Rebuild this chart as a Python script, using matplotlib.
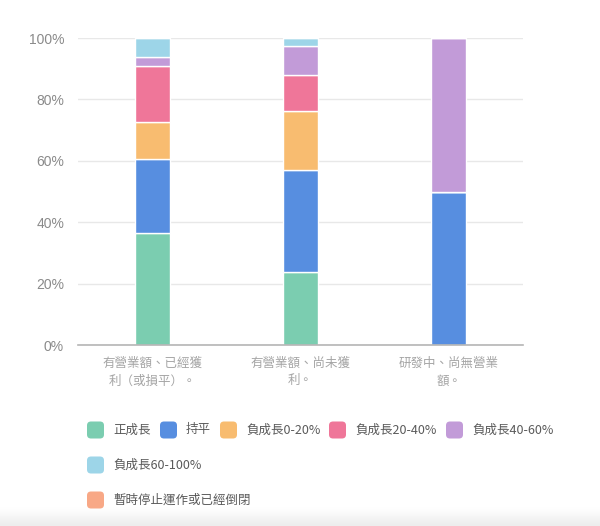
import numpy as np
import matplotlib.pyplot as plt
from matplotlib.patches import FancyBboxPatch
from matplotlib.colors import LinearSegmentedColormap
from matplotlib.ticker import FuncFormatter

plt.rcParams['font.family'] = ['Noto Sans CJK TC', 'DejaVu Sans']

# data (share of respondents, %)
categories = ['有營業額、已經獲\n利（或損平）。', '有營業額、尚未獲\n利。', '研發中、尚無營業\n額。']
series_names = ['正成長', '持平', '負成長0-20%', '負成長20-40%', '負成長40-60%',
                '負成長60-100%', '暫時停止運作或已經倒閉']
positive = [36.4, 23.8, 0]
flat = [24.2, 33.3, 50]
neg_0_20 = [12.1, 19.0, 0]
neg_20_40 = [18.2, 11.9, 0]
neg_40_60 = [3.0, 9.5, 50]
neg_60_100 = [6.1, 2.4, 0]
stopped = [0, 0, 0]
colors = ['#7bcdb0', '#578ee0', '#f8bc70', '#ef7699', '#c29bd8', '#9dd5e8', '#f8a886']

values = [positive, flat, neg_0_20, neg_20_40, neg_40_60, neg_60_100, stopped]

W, H = 600, 526
fig = plt.figure(figsize=(W / 100, H / 100), dpi=100)
ax = fig.add_axes([78 / W, 1 - 345.3 / H, 445 / W, 307.3 / H])

x = np.arange(len(categories))
bottom = np.zeros(len(categories))
for vals, col in zip(values, colors):
    vals = np.array(vals, dtype=float)
    ax.bar(x, vals, 0.236, bottom=bottom, color=col, edgecolor='white', linewidth=1, zorder=3)
    bottom += vals

ax.set_xlim(-0.5, 2.5)
ax.set_ylim(0, 100)
ax.set_yticks([0, 20, 40, 60, 80, 100])
ax.yaxis.set_major_formatter(FuncFormatter(lambda v, p: f'{v:.0f}%'))
ax.grid(axis='y', color='#e8e8e8', linewidth=1, zorder=0)
for s in ['top', 'right', 'left']:
    ax.spines[s].set_visible(False)
ax.spines['bottom'].set_color('#b5b5b5')
ax.spines['bottom'].set_linewidth(1.2)
ax.spines['bottom'].set_zorder(4)
ax.tick_params(axis='y', length=0, pad=10, labelsize=10, labelcolor='#8a8a8a')
for t in ax.get_yticklabels():
    t.set_family(['Liberation Sans', 'DejaVu Sans'])
ax.tick_params(axis='x', length=0, pad=8, labelsize=9, labelcolor='#a5a5a5')
ax.set_xticks(x)
ax.set_xticklabels(categories, linespacing=1.5)

# legend drawn in pixel coordinates
lax = fig.add_axes([0, 0, 1, 1], zorder=5)
lax.set_xlim(0, W)
lax.set_ylim(H, 0)
lax.axis('off')
lax.patch.set_alpha(0)

# light grey band at the very bottom
grad = np.linspace(0, 1, 20).reshape(-1, 1)
lax.imshow(grad, extent=[0, W, H, 507], aspect='auto', zorder=0,
           cmap=LinearSegmentedColormap.from_list('g', ['#ffffff', '#ededed']))

legend_pos = [(87, 430), (160, 430), (220, 430), (329, 430), (446, 430), (87, 465), (87, 500)]
for name, col, (lx, ly) in zip(series_names, colors, legend_pos):
    lax.add_patch(FancyBboxPatch((lx + 2, ly - 6.5), 13, 13, boxstyle='round,pad=2,rounding_size=4',
                                 facecolor=col, edgecolor='none'))
    lax.text(lx + 26, ly, name, fontsize=9, color='#5a5a5a', va='center', ha='left')

fig.savefig('out.png', dpi=100)
